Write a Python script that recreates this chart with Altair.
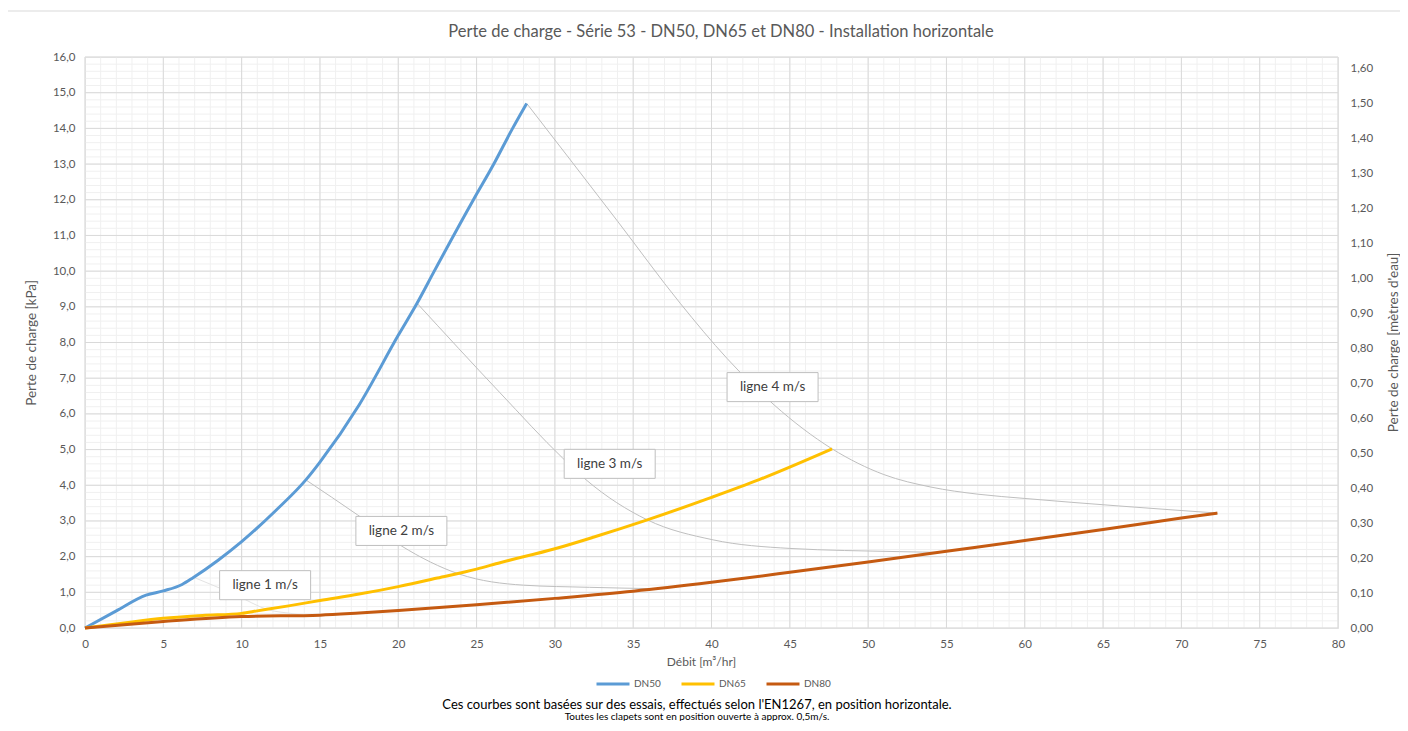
import altair as alt
import pandas as pd

# ---------------- data ----------------
series_names = ["DN50", "DN65", "DN80"]
series_colors = ["#5B9BD5", "#FFC000", "#C55A11"]

dn50_x = [0, 2, 3.9, 5, 6.2, 6.9, 8.5, 10, 12.2, 14.1, 15, 17.5, 20, 21.2, 22.3, 24.8, 26.1, 27.3, 28.2]
dn50_y = [0, 0.48, 0.92, 1.04, 1.22, 1.41, 1.9, 2.42, 3.3, 4.15, 4.65, 6.25, 8.2, 9.1, 10.0, 12.0, 13.0, 14.0, 14.7]

dn65_x = [0, 2.5, 5, 7.5, 10, 11, 13, 15, 17.5, 20, 22.5, 25, 26.5, 30, 32.5, 35.9, 40, 43, 47.7]
dn65_y = [0, 0.14, 0.27, 0.35, 0.41, 0.48, 0.62, 0.77, 0.95, 1.16, 1.4, 1.65, 1.83, 2.22, 2.55, 3.03, 3.66, 4.15, 5.02]

dn80_x = [0, 5, 10, 15, 17.5, 20, 25, 30, 35, 40, 45, 50, 55, 60, 65, 70, 72.3]
dn80_y = [0, 0.18, 0.32, 0.36, 0.42, 0.49, 0.65, 0.83, 1.03, 1.28, 1.56, 1.85, 2.15, 2.45, 2.76, 3.08, 3.22]

ligne_names = ["ligne 1 m/s", "ligne 2 m/s", "ligne 3 m/s", "ligne 4 m/s"]
l1_x = [7.0, 9.5, 11.8, 13.1, 14.0]
l1_y = [1.41, 0.95, 0.5, 0.41, 0.35]
l2_x = [14.1, 17.4, 20.2, 23.9, 28.0, 32.2, 36.5]
l2_y = [4.15, 3.17, 2.30, 1.51, 1.2, 1.14, 1.10]
l3_x = [21.2, 26.5, 30.5, 32.0, 35.9, 40.1, 45.0, 52.0, 54.3]
l3_y = [9.1, 6.59, 4.76, 4.15, 3.03, 2.47, 2.23, 2.14, 2.12]
l4_x = [28.2, 34.0, 38.0, 41.0, 44.0, 47.7, 51.0, 54.0, 57.0, 60.0, 66.0, 72.3]
l4_y = [14.7, 11.4, 9.1, 7.55, 6.25, 5.02, 4.3, 3.95, 3.75, 3.63, 3.42, 3.22]

label_x = [11.5, 20.2, 33.5, 43.9]
label_y = [1.2, 2.72, 4.6, 6.75]

x_ticks = list(range(0, 81, 5))
x_minor = list(range(0, 81))
y_ticks = list(range(0, 17))
y_minor = [round(i * 0.2, 1) for i in range(0, 81)]
right_ticks = [round(i * 0.1, 1) for i in range(0, 17)]
right_max = 1.6315  # 16 kPa expressed in metres of water

title_text = "Perte de charge - Série 53 - DN50, DN65 et DN80 - Installation horizontale"
foot1 = "Ces courbes sont basées sur des essais, effectués selon l'EN1267, en position horizontale."
foot2 = "Toutes les clapets sont en position ouverte à approx. 0,5m/s."

# ---------------- tables ----------------
series_df = pd.concat([
    pd.DataFrame({"x": dn50_x, "y": dn50_y, "s": "DN50", "o": range(len(dn50_x))}),
    pd.DataFrame({"x": dn65_x, "y": dn65_y, "s": "DN65", "o": range(len(dn65_x))}),
    pd.DataFrame({"x": dn80_x, "y": dn80_y, "s": "DN80", "o": range(len(dn80_x))}),
])
lignes_df = pd.concat([
    pd.DataFrame({"x": xs_, "y": ys_, "l": n, "o": range(len(xs_))})
    for xs_, ys_, n in zip([l1_x, l2_x, l3_x, l4_x], [l1_y, l2_y, l3_y, l4_y], ligne_names)
])
labels_df = pd.DataFrame({"x": label_x, "y": label_y, "t": ligne_names})
text_df = pd.DataFrame({"title": [title_text], "a": [foot1], "b": [foot2]})

FONT = "Lato"
GREY = "#595959"


def xsc():
    return alt.Scale(domain=[0, 80], nice=False, zero=False)


def ysc():
    return alt.Scale(domain=[0, 16], nice=False, zero=False)


def x_axis():
    return alt.Axis(
        values=x_ticks, grid=False, domain=False, ticks=False, labelColor=GREY, labelFont=FONT,
        labelFontSize=11.5, labelPadding=10, labelFlush=False, title="Débit [m³/hr]",
        titleColor=GREY, titleFont=FONT, titleFontSize=12, titleFontWeight="normal",
        titlePadding=7, titleX=616)


grid_x_minor = alt.Chart(pd.DataFrame({"v": x_minor})).mark_rule(color="#F0F0F0", strokeWidth=1).encode(
    x=alt.X("v:Q", scale=xsc(), axis=x_axis()))
grid_y_minor = alt.Chart(pd.DataFrame({"v": y_minor})).mark_rule(color="#F0F0F0", strokeWidth=1).encode(
    y=alt.Y("v:Q", scale=ysc(), axis=None))
grid_x_major = alt.Chart(pd.DataFrame({"v": x_ticks})).mark_rule(color="#D9D9D9", strokeWidth=1).encode(
    x=alt.X("v:Q", scale=xsc(), axis=x_axis()))
grid_y_major = alt.Chart(pd.DataFrame({"v": y_ticks})).mark_rule(color="#D9D9D9", strokeWidth=1).encode(
    y=alt.Y("v:Q", scale=ysc(), axis=None))

lignes = alt.Chart(lignes_df).mark_line(strokeWidth=1, interpolate="monotone").encode(
    x=alt.X("x:Q", scale=xsc(), axis=x_axis()),
    y=alt.Y("y:Q", scale=ysc(), axis=None),
    detail="l:N",
    order="o:Q",
    color=alt.condition(alt.datum.l == "ligne 1 m/s", alt.value("#E3E3E3"), alt.value("#BFBFBF")),
)

series = alt.Chart(series_df).mark_line(strokeWidth=3, interpolate="monotone").encode(
    x=alt.X("x:Q", scale=xsc(), axis=x_axis()),
    y=alt.Y("y:Q", scale=ysc(), axis=alt.Axis(
        values=y_ticks, grid=False, domain=False, ticks=False, labelColor=GREY, labelFont=FONT,
        labelFontSize=11.5, labelPadding=10, labelFlush=False,
        labelExpr="replace(format(datum.value, '.1f'), '.', ',')",
        title="Perte de charge [kPa]", titleColor=GREY, titleFont=FONT, titleFontSize=13.5,
        titleFontWeight="normal", titlePadding=14)),
    color=alt.Color("s:N", scale=alt.Scale(domain=series_names, range=series_colors), legend=alt.Legend(
        title=None, orient="none", legendX=510, legendY=609, direction="horizontal", columns=3,
        symbolType="stroke", symbolStrokeWidth=3, symbolSize=1089, labelFont=FONT, labelFontSize=10,
        labelColor=GREY, columnPadding=14, labelOffset=3)),
    order="o:Q",
)

boxes = alt.Chart(labels_df).mark_point(
    shape="M-1,-0.319L1,-0.319L1,0.319L-1,0.319Z", size=8281, filled=True, fill="white",
    stroke="#BFBFBF", strokeWidth=1, opacity=1).encode(
    x=alt.X("x:Q", scale=xsc(), axis=x_axis()), y=alt.Y("y:Q", scale=ysc(), axis=None))

texts = alt.Chart(labels_df).mark_text(font=FONT, fontSize=13.5, color="#404040").encode(
    x=alt.X("x:Q", scale=xsc(), axis=x_axis()), y=alt.Y("y:Q", scale=ysc(), axis=None), text="t:N")

title_mark = alt.Chart(text_df).mark_text(font=FONT, fontSize=16.5, color=GREY, baseline="middle").encode(
    x=alt.value(636), y=alt.value(-25), text="title:N")
foot_a = alt.Chart(text_df).mark_text(font=FONT, fontSize=13, color="#000000", baseline="middle").encode(
    x=alt.value(612), y=alt.value(648), text="a:N")
foot_b = alt.Chart(text_df).mark_text(font=FONT, fontSize=10, color="#000000", baseline="middle").encode(
    x=alt.value(612), y=alt.value(659.5), text="b:N")

frame_v = alt.Chart(text_df).mark_rule(color="#D9D9D9").encode(
    x=alt.value(-78), y=alt.value(-46), y2=alt.value(700))
frame_h = alt.Chart(text_df).mark_rule(color="#D9D9D9").encode(
    x=alt.value(-78), x2=alt.value(1400), y=alt.value(-46))

right = alt.Chart(pd.DataFrame({"v": right_ticks})).mark_point(opacity=0).encode(
    y=alt.Y("v:Q", scale=alt.Scale(domain=[0, right_max], nice=False, zero=False), axis=alt.Axis(
        orient="right", values=right_ticks, grid=False, domain=False, ticks=False, labelColor=GREY,
        labelFont=FONT, labelFontSize=11.5, labelPadding=12, labelFlush=False,
        labelExpr="replace(format(datum.value, '.2f'), '.', ',')",
        title="Perte de charge [mètres d'eau]", titleColor=GREY, titleFont=FONT, titleFontSize=13.5,
        titleFontWeight="normal", titleAngle=270, titleX=55, titleY=285, titleBaseline="middle")))

chart = alt.layer(
    grid_x_minor, grid_y_minor, grid_x_major, grid_y_major, lignes, series,
    boxes, texts, title_mark, foot_a, foot_b, frame_v, frame_h, right,
).resolve_scale(y="independent").properties(
    width=1253, height=571,
    autosize=alt.AutoSizeParams(type="none"),
    padding={"left": 77, "top": 49, "right": 62, "bottom": 93},
).configure_view(stroke=None).configure(background="white")

chart.save("out.html", embed_options={"renderer": "svg", "actions": False})
